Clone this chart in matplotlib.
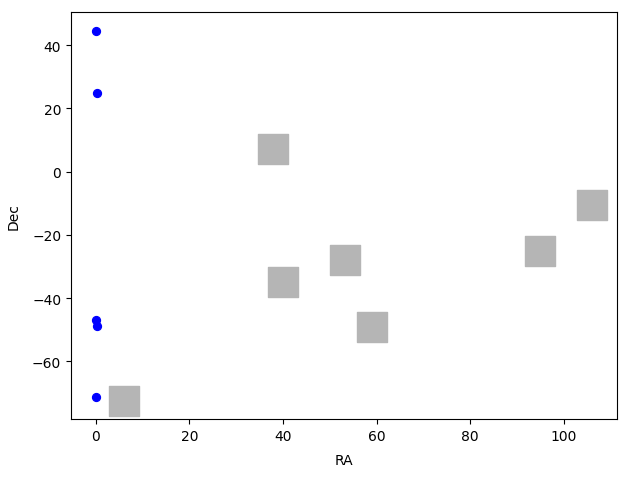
import matplotlib
matplotlib.use("Agg")
import matplotlib.pyplot as plt

# blue points (RA, Dec)
pointRA = [0.0, 0.2, 0.0, 0.3, 0.0]
pointDec = [44.6, 24.7, -46.8, -48.7, -71.2]

# grey squares (RA, Dec)
fieldRA = [37.9, 6.1, 40.0, 53.2, 59.1, 94.9, 106.1]
fieldDec = [7.1, -72.4, -34.8, -28.1, -49.1, -25.0, -10.7]

fig = plt.figure(figsize=(6.32, 4.81), dpi=100)
ax = fig.add_axes([71 / 632, 61 / 481, 546 / 632, 407 / 481])

ax.scatter(fieldRA, fieldDec, marker='s', s=490, color='#b5b5b5')
ax.scatter(pointRA, pointDec, color='blue', s=32)

ax.set_xlabel("RA", labelpad=7.5)
ax.set_ylabel("Dec", labelpad=8)

fig.savefig("out.png", dpi=100)
